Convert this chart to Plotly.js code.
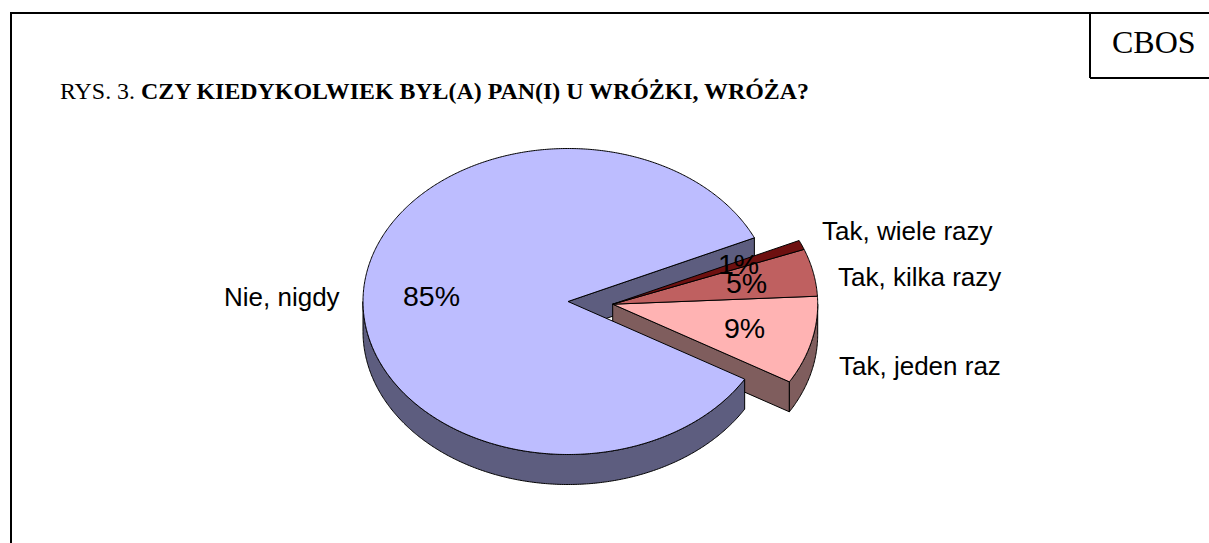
<!DOCTYPE html>
<html>
<head>
<meta charset="utf-8">
<script src="https://cdn.plot.ly/plotly-3.0.1.min.js"></script>
<style>html,body{margin:0;padding:0;background:#fff;overflow:hidden}#c{width:1209px;height:543px}</style>
</head>
<body>
<div id="c"></div>
<script>
// Data
const categories = ["Nie, nigdy", "Tak, jeden raz", "Tak, kilka razy", "Tak, wiele razy"];
const values = [84.7, 9.3, 5, 1];
const percentLabels = ["85%", "9%", "5%", "1%"];
const titlePlain = "RYS. 3. ";
const titleBold = "CZY KIEDYKOLWIEK BYŁ(A) PAN(I) U WRÓŻKI, WRÓŻA?";
const sourceLabel = "CBOS";

// Styles / geometry
const topColors = ["#BDBDFF", "#FFB3B3", "#BF6060", "#6E1010"];
const sideColors = ["#5D5D7F", "#7F5D5D", "#7F4848", "#4A0808"];
const exploded = [false, true, true, true];
const C = {x: 568, y: 301.5}, RX = 205, RY = 153, DEPTH = 30, START = 24.6;
const OFFSET = {x: 44.7, y: 2.7};
const catPos = [[282, 297], [920, 366], [919.5, 277], [907.5, 231]];
const pctPos = [[431, 296], [744, 328], [746, 283], [738, 264]];

const total = values.reduce((a, b) => a + b, 0);
let cum = START;
const slices = values.map((v, i) => {
  const a0 = cum, a1 = cum + v / total * 360;
  cum = a1;
  return {a0, a1, i, c: exploded[i] ? {x: C.x + OFFSET.x, y: C.y + OFFSET.y} : C};
});
const pt = (c, deg, d = 0) => [c.x + RX * Math.cos(deg * Math.PI / 180), c.y - RY * Math.sin(deg * Math.PI / 180) + d];
function arc(c, a0, a1, d = 0) {
  const out = [], n = Math.max(2, Math.ceil(Math.abs(a1 - a0) * 2));
  for (let k = 0; k <= n; k++) out.push(pt(c, a0 + (a1 - a0) * k / n, d));
  return out;
}
function poly(points, fill, name) {
  const p = points.concat([points[0]]);
  return {
    type: "scatter", mode: "lines", x: p.map(q => q[0]), y: p.map(q => q[1]),
    fill: "toself", fillcolor: fill, line: {color: "#000", width: 1, simplify: false},
    hoverinfo: "skip", showlegend: false, name: name
  };
}
const traces = [];
const main = slices[0], s9 = slices[1];
// wall of the notch of the main slice
traces.push(poly([[C.x, C.y], pt(C, main.a0), pt(C, main.a0, DEPTH), [C.x, C.y + DEPTH]], sideColors[0], categories[0]));
// walls of the pulled-out slice
const sc = s9.c;
traces.push(poly([[sc.x, sc.y], pt(sc, s9.a0), pt(sc, s9.a0, DEPTH), [sc.x, sc.y + DEPTH]], sideColors[1], categories[1]));
traces.push(poly(arc(sc, s9.a0, 360).concat(arc(sc, 360, s9.a0, DEPTH)), sideColors[1], categories[1]));
// rim and top of the main slice
traces.push(poly(arc(C, 180, main.a1).concat(arc(C, main.a1, 180, DEPTH)), sideColors[0], categories[0]));
traces.push(poly([[C.x, C.y]].concat(arc(C, main.a0, main.a1)), topColors[0], categories[0]));
// tops of the pulled-out slices
slices.slice(1).forEach(s => traces.push(poly([[s.c.x, s.c.y]].concat(arc(s.c, s.a0, s.a1)), topColors[s.i], categories[s.i])));

const sans = "Liberation Sans, Arial, sans-serif", serif = "Liberation Serif, Times New Roman, serif";
const ann = (x, y, text, size, family, xanchor = "center") => ({
  x, y, xref: "x", yref: "y", text, showarrow: false, xanchor, yanchor: "middle",
  font: {family, size, color: "#000"}
});
const annotations = [];
categories.forEach((t, i) => annotations.push(ann(catPos[i][0], catPos[i][1], t, 26, sans)));
percentLabels.forEach((t, i) => annotations.push(ann(pctPos[i][0], pctPos[i][1], t, 28.5, sans)));
annotations.push(ann(1154, 42, sourceLabel, 32, serif));

const line = (x0, y0, x1, y1) => ({type: "line", xref: "x", yref: "y", x0, y0, x1, y1, line: {color: "#000", width: 2}});
Plotly.newPlot("c", traces, {
  width: 1209, height: 543,
  margin: {l: 0, r: 0, t: 0, b: 0},
  paper_bgcolor: "#fff", plot_bgcolor: "#fff",
  showlegend: false, hovermode: false,
  title: {
    text: titlePlain + "<b>" + titleBold + "</b>",
    x: 60 / 1209, xanchor: "left", xref: "paper",
    y: 1 - 91 / 543, yanchor: "middle", yref: "paper",
    font: {family: serif, size: 23.9, color: "#000"}
  },
  xaxis: {range: [0, 1209], visible: false, fixedrange: true},
  yaxis: {range: [543, 0], visible: false, fixedrange: true},
  annotations,
  shapes: [line(11, 13, 1209, 13), line(11, 12, 11, 543), line(1090, 13, 1090, 78), line(1090, 78, 1209, 78)]
}, {displayModeBar: false, staticPlot: true});
</script>
</body>
</html>
